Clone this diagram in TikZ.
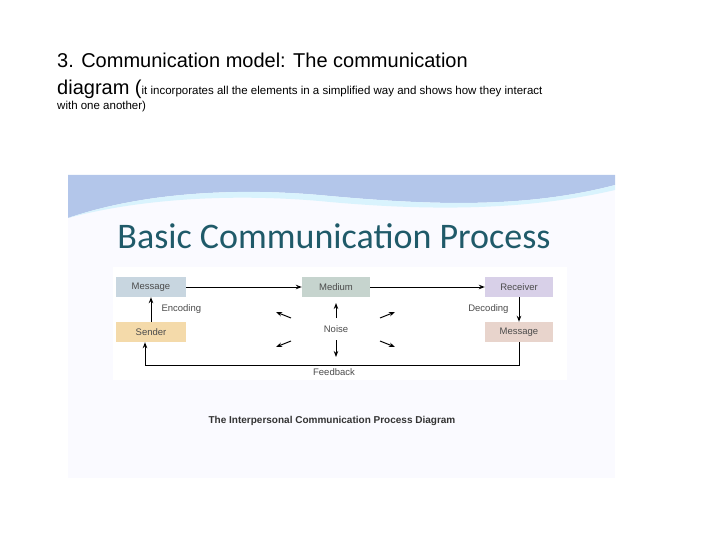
\documentclass[tikz,border=0pt]{standalone}
\usepackage{fontspec}
\setmainfont{Liberation Sans}
\newfontfamily\carlitofont{Carlito}
\usetikzlibrary{arrows.meta}
\begin{document}
\begin{tikzpicture}[x=1pt,y=-1pt,
  box/.style={minimum width=70pt,minimum height=20pt,inner sep=0pt,font=\fontsize{9.5}{10}\selectfont,text=black!70},
  arr/.style={-{Stealth[length=6pt]},line width=1pt},
  lab/.style={font=\fontsize{9.5}{10}\selectfont,text=black!70}]
\useasboundingbox (0,0) rectangle (720,540);
\node[anchor=west,inner sep=0pt,font=\fontsize{20}{22}\selectfont] (h1) at (57,60) {3. Communication model: The communication};
\node[anchor=west,inner sep=0pt] (h2) at (57,89) {{\fontsize{20}{22}\selectfont diagram (}{\fontsize{11.5}{13}\selectfont it incorporates all the elements in a simplified way and shows how they interact}};
\node[anchor=west,inner sep=0pt,font=\fontsize{11.5}{13}\selectfont] (h3) at (57,107) {with one another)};
\fill[blue!2!white] (68,175) rectangle (615,478);
\fill[cyan!50!blue!30] (68,175) -- (68,218) .. controls (150,190) and (250,188) .. (330,196) .. controls (420,204) and (520,210) .. (615,185) -- (615,175) -- cycle;
\fill[cyan!15] (68,218) .. controls (150,196) and (250,194) .. (330,202) .. controls (420,210) and (520,212) .. (615,190) -- (615,185) .. controls (520,210) and (420,204) .. (330,196) .. controls (250,188) and (150,190) .. (68,218);
\fill[white] (113,267) rectangle (567,380);
\node[font=\carlitofont\fontsize{36}{40}\selectfont,text={rgb,255:red,31;green,90;blue,105}] (t) at (334,236) {Basic Communication Process};
\node[box,fill={rgb,255:red,200;green,214;blue,224}] (m1) at (151,287) {Message};
\node[box,fill={rgb,255:red,198;green,212;blue,206},minimum width=68pt] (md) at (336,287) {Medium};
\node[box,fill={rgb,255:red,216;green,208;blue,232},minimum width=68pt] (rc) at (519,287) {Receiver};
\node[box,fill={rgb,255:red,244;green,218;blue,170}] (s) at (151,332) {Sender};
\node[box,fill={rgb,255:red,232;green,212;blue,204},minimum width=68pt] (m2) at (519,332) {Message};
\draw[arr] (m1) -- (md);
\draw[arr] (md) -- (rc);
\draw[arr] (s) -- (m1);
\draw[arr] (rc) -- (m2);
\node[lab,anchor=west] (enc) at (158,309) {Encoding};
\node[lab,anchor=east] (dec) at (512,309) {Decoding};
\node[lab] (n) at (336,329) {Noise};
\draw[arr] (336,318) -- (336,303);
\draw[arr] (336,340) -- (336,357);
\draw[arr] (291,318) -- (276,312);
\draw[arr] (380,318) -- (395,312);
\draw[arr] (291,341) -- (276,347);
\draw[arr] (380,341) -- (395,347);
\coordinate (c1) at (519,365);
\coordinate (c2) at (145,365);
\draw[arr] (m2.south) -- (c1) -- (c2) -- (s.south -| c2);
\node[lab] (fb) at (334,372) {Feedback};
\node[font=\bfseries\fontsize{10}{11}\selectfont,text=black!80] (cap) at (332,421) {The Interpersonal Communication Process Diagram};
\end{tikzpicture}
\end{document}
